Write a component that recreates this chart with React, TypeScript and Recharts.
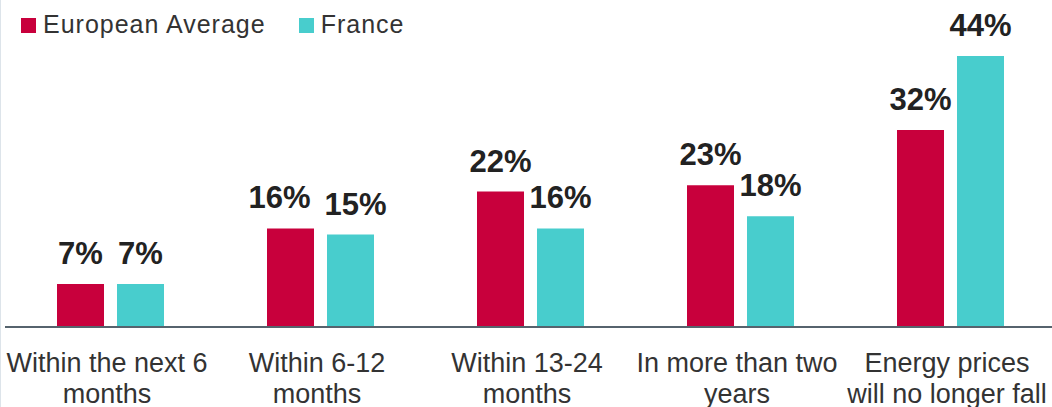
import React from 'react';
import { BarChart, Bar, XAxis, YAxis, LabelList } from 'recharts';

const categories = [
    'Within the next 6\nmonths',
    'Within 6-12\nmonths',
    'Within 13-24\nmonths',
    'In more than two\nyears',
    'Energy prices\nwill no longer fall',
];
const europeanAverage = [7, 16, 22, 23, 32];
const france = [7, 15, 16, 18, 44];
const seriesNames = ['European Average', 'France'];
const seriesColors = ['#C8003C', '#48CDCD'];

const FONT = '"Liberation Sans", Arial, Helvetica, sans-serif';

const data = categories.map((category, i) => ({
    category,
    eu: europeanAverage[i],
    fr: france[i],
}));

const CategoryTick = (props: any) => {
    const { x, y, payload } = props;
    const lines: string[] = String(payload.value).split('\n');
    return (
        <text x={x - 3} y={y} textAnchor="middle" fontSize={27} fill="#333" fontFamily={FONT}>
            {lines.map((line, i) => (
                <tspan key={i} x={x - 3} dy={i === 0 ? 45 : 31}>{line}</tspan>
            ))}
        </text>
    );
};

// value label above a bar; the 16% / 15% pair is nudged apart like in the original
const makeLabel = (nudge: (i: number) => number) => (props: any) => {
    const { x, y, width, value, index } = props;
    return (
        <text
            x={x + width / 2 + nudge(index)}
            y={y - 20}
            textAnchor="middle"
            fontSize={31}
            fontWeight={700}
            fill="#222"
            fontFamily={FONT}
        >
            {`${value}%`}
        </text>
    );
};

const euLabel = makeLabel(i => (i === 1 ? -11 : 0));
const frLabel = makeLabel(i => (i === 1 ? 5 : 0));

export default function App() {
    return (
        <div style={{ position: 'absolute', left: 0, top: 0, width: 1052, height: 407, overflow: 'hidden', background: '#fff' }}>
            <BarChart
                width={1060}
                height={407}
                data={data}
                margin={{ top: 56, right: 5, bottom: 0, left: 5 }}
                barSize={47}
                barGap={13}
            >
                <XAxis
                    dataKey="category"
                    height={80}
                    interval={0}
                    tickLine={false}
                    tickSize={0}
                    tickMargin={0}
                    axisLine={{ stroke: '#56636D', strokeWidth: 2 }}
                    tick={<CategoryTick />}
                />
                <YAxis hide domain={[0, 44]} />
                <Bar dataKey="eu" name={seriesNames[0]} fill={seriesColors[0]} isAnimationActive={false}>
                    <LabelList dataKey="eu" content={euLabel} />
                </Bar>
                <Bar dataKey="fr" name={seriesNames[1]} fill={seriesColors[1]} isAnimationActive={false}>
                    <LabelList dataKey="fr" content={frLabel} />
                </Bar>
            </BarChart>

            {/* legend */}
            <div style={{ position: 'absolute', left: 21, top: 12, display: 'flex', alignItems: 'flex-start', fontFamily: FONT, fontSize: 25, lineHeight: '25px', letterSpacing: 1, color: '#333' }}>
                {seriesNames.map((name, i) => (
                    <div key={name} style={{ display: 'flex', alignItems: 'flex-start', marginRight: 33 }}>
                        <div style={{ width: 15, height: 15, marginTop: 6, marginRight: 7, background: seriesColors[i] }} />
                        <span>{name}</span>
                    </div>
                ))}
            </div>

            <div style={{ position: 'absolute', left: 0, top: 0, width: 1, height: 407, background: '#DDE4EA' }} />
        </div>
    );
}
